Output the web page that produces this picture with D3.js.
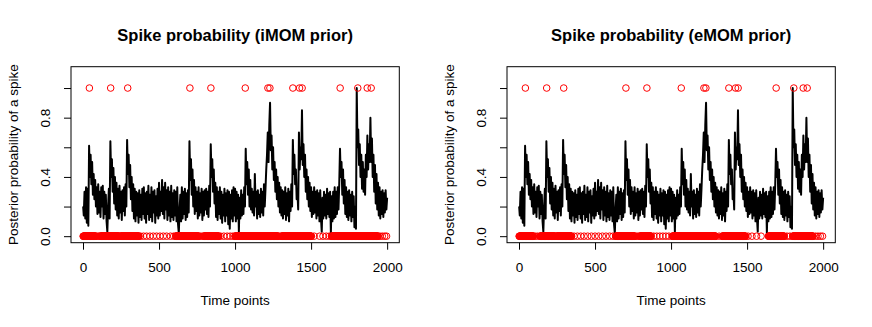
<!DOCTYPE html>
<html>
<head>
<meta charset="utf-8">
<script src="https://cdn.jsdelivr.net/npm/d3@7"></script>
<style>
  body { margin: 0; background: #fff; }
  svg { display: block; font-family: "Liberation Sans", Arial, Helvetica, sans-serif; }
</style>
</head>
<body>
<div id="chart"></div>
<script>
// posterior spike probability, read every 5 time points (same curve in both panels)
const probTimes = d3.range(0, 2001, 5);
const spikeProb = [
  0.20,0.14,0.30,0.12,0.33,0.09,0.32,0.07,0.61,0.40,0.55,0.35,0.50,0.28,0.42,0.25,0.38,0.20,0.33,0.15,
  0.35,0.16,0.30,0.13,0.33,0.20,0.34,0.12,0.30,0.15,0.28,0.10,0.03,0.20,0.32,0.12,0.64,0.40,0.52,0.30,
  0.46,0.22,0.40,0.18,0.36,0.14,0.32,0.12,0.34,0.16,0.30,0.11,0.31,0.17,0.33,0.14,0.35,0.20,0.65,0.42,
  0.55,0.33,0.48,0.25,0.40,0.17,0.35,0.12,0.32,0.10,0.30,0.14,0.29,0.09,0.31,0.13,0.28,0.11,0.32,0.15,
  0.33,0.12,0.29,0.09,0.30,0.15,0.34,0.11,0.28,0.13,0.33,0.10,0.30,0.16,0.31,0.09,0.27,0.14,0.32,0.12,
  0.36,0.14,0.30,0.17,0.38,0.15,0.33,0.12,0.36,0.18,0.31,0.11,0.33,0.14,0.30,0.10,0.34,0.13,0.29,0.11,
  0.31,0.14,0.30,0.10,0.33,0.08,0.02,0.18,0.28,0.10,0.33,0.12,0.30,0.15,0.32,0.11,0.29,0.13,0.31,0.16,
  0.64,0.38,0.52,0.28,0.45,0.20,0.38,0.15,0.33,0.17,0.30,0.12,0.33,0.14,0.29,0.16,0.32,0.11,0.30,0.14,
  0.31,0.18,0.32,0.15,0.30,0.13,0.34,0.20,0.62,0.40,0.52,0.30,0.45,0.22,0.36,0.13,0.33,0.11,0.30,0.15,
  0.33,0.12,0.30,0.09,0.28,0.14,0.32,0.10,0.29,0.14,0.31,0.08,0.30,0.05,0.28,0.12,0.31,0.10,0.33,0.14,
  0.32,0.10,0.30,0.12,0.28,0.03,0.26,0.12,0.31,0.14,0.28,0.15,0.33,0.20,0.59,0.35,0.50,0.28,0.45,0.20,
  0.38,0.18,0.32,0.16,0.30,0.14,0.42,0.20,0.30,0.12,0.31,0.15,0.28,0.13,0.32,0.16,0.30,0.14,0.35,0.20,
  0.32,0.45,0.55,0.70,0.50,0.75,0.90,0.58,0.68,0.45,0.60,0.38,0.50,0.30,0.45,0.25,0.40,0.20,0.36,0.16,
  0.33,0.14,0.31,0.12,0.30,0.15,0.33,0.11,0.29,0.14,0.32,0.10,0.30,0.17,0.35,0.20,0.65,0.42,0.55,0.35,
  0.45,0.25,0.30,0.18,0.70,0.45,0.60,0.52,0.85,0.48,0.62,0.40,0.55,0.30,0.45,0.25,0.40,0.20,0.36,0.17,
  0.33,0.13,0.30,0.15,0.33,0.16,0.30,0.12,0.31,0.14,0.29,0.10,0.31,0.12,0.03,0.26,0.12,0.30,0.14,0.28,
  0.12,0.32,0.15,0.29,0.13,0.30,0.02,0.27,0.10,0.30,0.12,0.33,0.13,0.30,0.15,0.33,0.18,0.35,0.59,0.40,
  0.50,0.28,0.45,0.22,0.38,0.15,0.33,0.13,0.30,0.11,0.31,0.14,0.28,0.10,0.30,0.13,0.27,0.06,0.20,0.05,
  1.00,0.60,0.72,0.48,0.62,0.40,0.55,0.32,0.50,0.30,0.45,0.28,0.55,0.40,0.68,0.45,0.62,0.50,0.80,0.50,
  0.66,0.40,0.55,0.30,0.48,0.22,0.42,0.18,0.36,0.14,0.33,0.12,0.30,0.15,0.31,0.13,0.29,0.16,0.31,0.18,
  0.26
];

// time points flagged as spikes (circles at 1)
const spikeTimes = [42, 182, 294, 703, 841, 1067, 1216, 1229, 1380, 1424, 1441, 1691, 1807, 1869, 1895];

// circles at 0: dense runs [from, to] and isolated points
const zeroRunsIMOM = [[1, 83], [116, 237], [248, 368], [609, 762], [795, 894], [999, 1284], [1306, 1503], [1634, 1941]];
const zeroSparseIMOM = [92, 104, 110, 242, 378, 398, 418, 440, 462, 484, 506, 528, 550, 575, 596, 772, 786, 904, 926, 948, 968, 986, 1295, 1520, 1556, 1578, 1600, 1620, 1952, 1968, 1984, 1996];
const zeroRunsEMOM = [[1, 95], [138, 237], [248, 346], [636, 762], [795, 870], [1008, 1295], [1336, 1490], [1640, 1745], [1800, 1935]];
const zeroSparseEMOM = [106, 122, 242, 362, 384, 406, 428, 452, 476, 500, 524, 548, 572, 596, 618, 774, 786, 886, 906, 926, 946, 966, 986, 1316, 1506, 1532, 1562, 1592, 1762, 1782, 1950, 1966, 1982, 1996];

const xTicks = [0, 500, 1000, 1500, 2000];
const yTicks = [0, 0.2, 0.4, 0.6, 0.8, 1.0];
const yLabelled = [0, 0.4, 0.8];

const W = 872, H = 327;
const svg = d3.select("#chart").append("svg").attr("width", W).attr("height", H);

function drawPanel(ox, title, runs, sparse) {
  const box = { left: ox + 71, right: ox + 399.3, top: 66.7, bottom: 242.7 };
  const g = svg.append("g");

  // R style ranges: xlim c(1,2000), ylim c(0,1.1), both padded by 4%
  const x = d3.scaleLinear().domain([1 - 79.96, 2000 + 79.96]).range([box.left, box.right]);
  const y = d3.scaleLinear().domain([-0.044, 1.144]).range([box.bottom, box.top]);

  const zeroTimes = runs.flatMap(([a, b]) => d3.range(a, b + 1, 2)).concat(sparse);

  // Line
  g.append("path")
    .datum(probTimes.map((t, i) => [Math.max(t, 1), spikeProb[i]]))
    .attr("fill", "none")
    .attr("stroke", "#000")
    .attr("stroke-width", 2)
    .attr("stroke-linejoin", "round")
    .attr("d", d3.line().x((d) => x(d[0])).y((d) => y(d[1])));

  // Spike indicator circles
  g.append("g").selectAll("circle")
    .data(zeroTimes.map((t) => [t, 0]).concat(spikeTimes.map((t) => [t, 1])))
    .join("circle")
    .attr("cx", (d) => x(d[0]))
    .attr("cy", (d) => y(d[1]))
    .attr("r", 3.3)
    .attr("fill", "none")
    .attr("stroke", "#ff0000")
    .attr("stroke-width", 1);

  // Box
  g.append("rect")
    .attr("x", box.left).attr("y", box.top)
    .attr("width", box.right - box.left).attr("height", box.bottom - box.top)
    .attr("fill", "none").attr("stroke", "#000").attr("stroke-width", 1);

  // X axis
  g.append("g")
    .attr("transform", `translate(0,${box.bottom})`)
    .call(d3.axisBottom(x).tickValues(xTicks).tickSize(7).tickPadding(13).tickFormat(d3.format("d")))
    .call((a) => a.select(".domain").remove())
    .call((a) => a.selectAll("line").attr("stroke", "#000"))
    .selectAll("text")
    .attr("fill", "#000")
    .attr("font-size", "13.5px")
    .attr("font-family", null);

  // Y axis, labels parallel to the axis
  g.append("g")
    .attr("transform", `translate(${box.left},0)`)
    .call(d3.axisLeft(y).tickValues(yTicks).tickSize(7).tickFormat((d) => yLabelled.includes(d) ? d3.format(".1f")(d) : ""))
    .call((a) => a.select(".domain").remove())
    .call((a) => a.selectAll("line").attr("stroke", "#000"))
    .selectAll("text")
    .attr("fill", "#000")
    .attr("font-size", "13.5px")
    .attr("font-family", null)
    .attr("text-anchor", "middle")
    .attr("x", null)
    .attr("dy", null)
    .attr("transform", "translate(-21,0) rotate(-90)");

  // Titles
  const cx = (box.left + box.right) / 2;
  g.append("text")
    .attr("x", cx).attr("y", 41)
    .attr("text-anchor", "middle")
    .attr("font-size", "16.5px")
    .attr("font-weight", "bold")
    .text(title);

  g.append("text")
    .attr("x", cx).attr("y", 305)
    .attr("text-anchor", "middle")
    .attr("font-size", "13.5px")
    .text("Time points");

  g.append("text")
    .attr("transform", `translate(${ox + 18},${(box.top + box.bottom) / 2}) rotate(-90)`)
    .attr("text-anchor", "middle")
    .attr("font-size", "13.5px")
    .text("Posterior probability of a spike");
}

drawPanel(0, "Spike probability (iMOM prior)", zeroRunsIMOM, zeroSparseIMOM);
drawPanel(436, "Spike probability (eMOM prior)", zeroRunsEMOM, zeroSparseEMOM);
</script>
</body>
</html>
